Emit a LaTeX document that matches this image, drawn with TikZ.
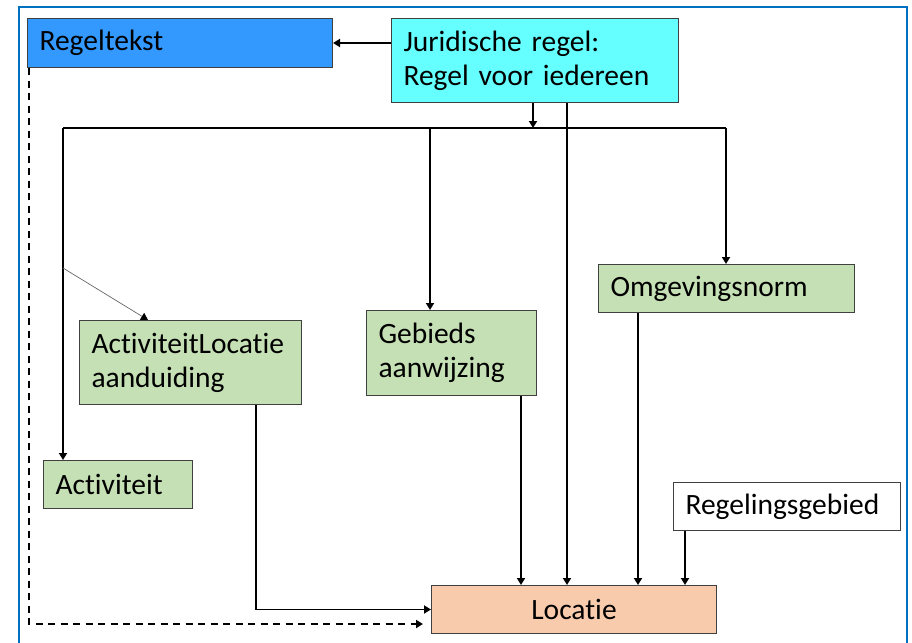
\documentclass[tikz,border=0pt]{standalone}
\usepackage{fontspec}
\setmainfont{Carlito}[RawFeature={-liga;-calt;-clig}, WordSpace=0.75]
\usetikzlibrary{arrows.meta}
\definecolor{framebl}{HTML}{0070C0}
\definecolor{regbl}{HTML}{3399FF}
\definecolor{jurcy}{HTML}{66FFFF}
\definecolor{grn}{HTML}{C5E0B4}
\definecolor{loccol}{HTML}{F8CBAD}
\definecolor{bordr}{HTML}{404040}
\begin{document}
\begin{tikzpicture}[x=1pt,y=-1pt,
  box/.style={draw=bordr, line width=1pt, anchor=north west, inner xsep=12pt, inner ysep=0pt,
    align=left, font=\fontsize{29.5}{34}\selectfont, minimum height=48pt},
  arr/.style={line width=1.8pt, -{Triangle[length=7pt,width=8pt]}},
  plain/.style={line width=1.8pt},
  thinarr/.style={line width=0.7pt, draw=black!60, -{Triangle[length=7pt,width=8pt,color=black,fill=black]}},
  dasharr/.style={line width=1.8pt, dash pattern=on 7pt off 5.5pt, -{Triangle[length=7pt,width=8pt]}}]
\useasboundingbox (0,0) rectangle (912,642);
% frame
\draw[framebl, line width=2pt] (19,650) -- (19,7) -- (907,7) -- (907,650);
% nodes
\node[box, fill=regbl, text width=281pt, minimum height=49pt] (reg) at (27,18) {Regeltekst};
\node[box, fill=jurcy, text width=263pt, minimum height=84pt] (jur) at (391,18) {Juridische regel:\\Regel voor iedereen};
\node[box, fill=grn, text width=198pt, minimum height=84pt] (actloc) at (79,320) {ActiviteitLocatie\\aanduiding};
\node[box, fill=grn, text width=146pt, minimum height=85pt] (geb) at (366,310) {Gebieds\\aanwijzing};
\node[box, fill=grn, text width=232pt] (omg) at (598,264) {Omgevingsnorm};
\node[box, fill=grn, text width=125pt] (act) at (43,460) {Activiteit};
\node[box, fill=white, text width=203pt] (rgb) at (673,482) {Regelingsgebied};
\node[box, fill=loccol, text width=261pt, align=center] (loc) at (431,585) {Locatie};
% coordinates
\coordinate (busL) at (63,128);
\coordinate (busR) at (726,128);
\coordinate (busM) at (430,128);
\coordinate (j1) at ([xshift=142pt]jur.south west);
\coordinate (j2) at ([xshift=176pt]jur.south west);
\coordinate (t1) at (63,268);
\coordinate (alb) at ([xshift=177pt]actloc.south west);
\coordinate (gb) at ([xshift=155pt]geb.south west);
\coordinate (ob) at ([xshift=40pt]omg.south west);
\coordinate (rb) at ([xshift=12pt]rgb.south west);
\coordinate (dend) at (423,624);
% connectors
\draw[arr] (reg.east -| jur.west) -- (reg.east);
\draw[plain] (busL) -- (busR);
\draw[arr] (j1) -- (j1 |- busL);
\draw[arr] (j2) -- (j2 |- loc.north);
\draw[arr] (busL) -- (busL |- act.north);
\draw[arr] (busM) -- (busM |- geb.north);
\draw[arr] (busR) -- (busR |- omg.north);
\draw[thinarr] (t1) -- ([xshift=69pt]actloc.north west);
\draw[arr] (alb) |- (loc.west);
\draw[arr] (gb) -- (gb |- loc.north);
\draw[arr] (ob) -- (ob |- loc.north);
\draw[arr] (rb) -- (rb |- loc.north);
\draw[dasharr] ([xshift=2pt]reg.south west) |- (dend);
\end{tikzpicture}
\end{document}
